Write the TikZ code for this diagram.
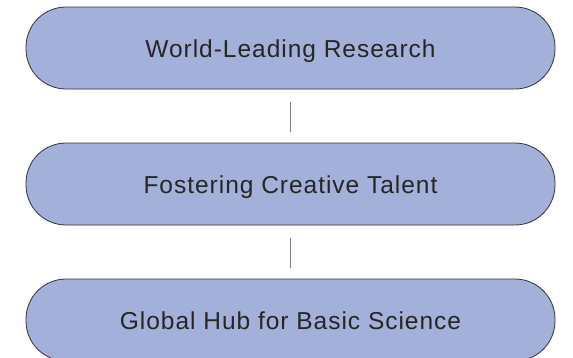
\documentclass[tikz,border=0pt]{standalone}
\usepackage{fontspec}
\setmainfont{Liberation Sans}[LetterSpace=4]
\begin{document}
\begin{tikzpicture}[x=1pt,y=-1pt,
  pill/.style={draw=black!80,line width=0.8pt,fill=boxfill,rounded corners=40pt,
    minimum width=529pt,minimum height=82pt,inner sep=0pt,
    text height=19.5pt,text depth=0pt,
    font=\fontsize{24.5}{29}\selectfont,text=black!85},
  link/.style={draw=black!50,line width=1.2pt}]
\definecolor{boxfill}{HTML}{A3B0DA}
\clip (0,0) rectangle (573,357);
\useasboundingbox (0,0) rectangle (573,357);
\node[pill] (a) at (290.5,48) {World-Leading Research};
\node[pill] (b) at (290.5,184) {Fostering Creative Talent};
\node[pill] (c) at (290.5,320) {Global Hub for Basic Science};
\draw[link] ([yshift=-13pt]a.south) -- ([yshift=11pt]b.north);
\draw[link] ([yshift=-13pt]b.south) -- ([yshift=11pt]c.north);
\end{tikzpicture}
\end{document}
